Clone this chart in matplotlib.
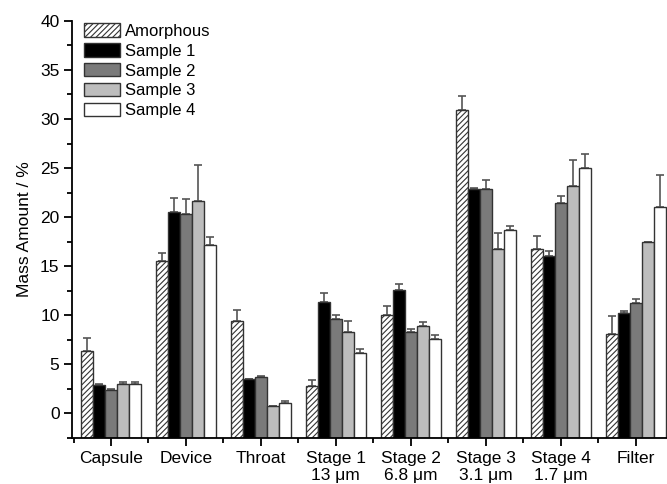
import matplotlib
matplotlib.use('Agg')
import matplotlib.pyplot as plt
import numpy as np
from matplotlib.ticker import MultipleLocator, FixedLocator

plt.rcParams['font.family'] = ['Liberation Sans', 'DejaVu Sans']
plt.rcParams['hatch.color'] = '#555555'
plt.rcParams['hatch.linewidth'] = 0.8

stages = ['Capsule', 'Device', 'Throat', 'Stage 1\n13 \u03bcm', 'Stage 2\n6.8 \u03bcm',
          'Stage 3\n3.1 \u03bcm', 'Stage 4\n1.7 \u03bcm', 'Filter']
series = ['Amorphous', 'Sample 1', 'Sample 2', 'Sample 3', 'Sample 4']

amorphous = [6.4, 15.5, 9.4, 2.85, 10.0, 30.9, 16.8, 8.1]
amorphous_err = [1.3, 0.8, 1.1, 0.6, 0.9, 1.4, 1.3, 1.8]
sample1 = [2.95, 20.55, 3.5, 11.35, 12.6, 22.85, 16.0, 10.2]
sample1_err = [0.1, 1.45, 0.05, 0.9, 0.55, 0.15, 0.55, 0.25]
sample2 = [2.4, 20.3, 3.75, 9.6, 8.3, 22.9, 21.4, 11.25]
sample2_err = [0.1, 1.5, 0.1, 0.45, 0.3, 0.85, 0.8, 0.45]
sample3 = [3.0, 21.6, 0.75, 8.3, 8.9, 16.75, 23.15, 17.45]
sample3_err = [0.2, 3.7, 0.05, 1.1, 0.45, 1.6, 2.65, 0.05]
sample4 = [3.0, 17.2, 1.1, 6.2, 7.55, 18.7, 25.0, 21.05]
sample4_err = [0.25, 0.75, 0.15, 0.4, 0.45, 0.35, 1.4, 3.2]

values = [amorphous, sample1, sample2, sample3, sample4]
errors = [amorphous_err, sample1_err, sample2_err, sample3_err, sample4_err]
colors = ['white', 'black', '#7a7a7a', '#bdbdbd', 'white']
hatches = ['//////', None, None, None, None]

fig = plt.figure(figsize=(6.67, 4.84), dpi=100)
ax = fig.add_axes([0.108, 0.095, 0.892, 0.862])

ybot = -2.5
x = np.arange(1, len(stages) + 1)
w = 0.16
for i in range(5):
    pos = x + (i - 2) * w
    v = np.array(values[i])
    ax.bar(pos, v - ybot, w, bottom=ybot, color=colors[i], edgecolor='#333333',
           linewidth=1.0, hatch=hatches[i], label=series[i], zorder=2)
    ax.errorbar(pos, v, yerr=[np.zeros(len(v)), errors[i]], fmt='none',
                ecolor='#555555', elinewidth=1.2, capsize=3, capthick=1.2, zorder=1)

ax.set_xlim(0.48, 8.42)
ax.set_ylim(ybot, 40)
ax.spines['top'].set_visible(False)
ax.spines['right'].set_visible(False)
ax.spines['left'].set_linewidth(1.3)
ax.spines['bottom'].set_linewidth(1.3)

ax.set_xticks(x)
ax.set_xticklabels(stages, fontsize=12.5, linespacing=1.15)
ax.xaxis.set_minor_locator(FixedLocator(np.arange(0.5, 8.6, 1)))
ax.set_yticks(np.arange(0, 41, 5))
ax.yaxis.set_minor_locator(MultipleLocator(2.5))
ax.tick_params(axis='both', which='major', direction='out', length=6, width=1.3, labelsize=12.5)
ax.tick_params(axis='y', which='major', pad=3)
ax.tick_params(axis='both', which='minor', direction='out', length=3.5, width=1.3)
ax.set_ylabel('Mass Amount / %', fontsize=12.5, labelpad=6)

ax.legend(loc='upper left', bbox_to_anchor=(0.0, 1.022), frameon=False, fontsize=12,
          handlelength=2.15, handleheight=0.85, handletextpad=0.3, labelspacing=0.27,
          borderaxespad=0.3)

fig.savefig('out.png', dpi=100)
